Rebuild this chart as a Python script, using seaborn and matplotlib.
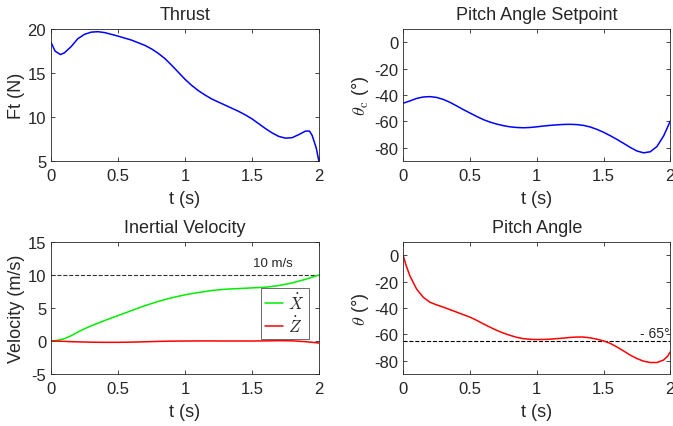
import pandas as pd
import seaborn as sns
import matplotlib.pyplot as plt

# values
t_thrust = [0, 0.03, 0.07, 0.1, 0.15, 0.2, 0.25, 0.3, 0.35, 0.4, 0.5, 0.6, 0.65, 0.7, 0.75,
            0.8, 0.85, 0.9, 0.95, 1.0, 1.05, 1.1, 1.15, 1.2, 1.25, 1.3, 1.35, 1.4, 1.45, 1.5,
            1.55, 1.6, 1.65, 1.7, 1.75, 1.8, 1.85, 1.9, 1.93, 1.95, 1.98, 2.0]
thrust = [18.5, 17.5, 17.1, 17.3, 18.0, 18.9, 19.4, 19.65, 19.7, 19.6, 19.2, 18.75, 18.45,
          18.15, 17.75, 17.25, 16.65, 15.9, 15.1, 14.3, 13.6, 13.0, 12.5, 12.05, 11.7, 11.35,
          11.0, 10.65, 10.25, 9.8, 9.25, 8.7, 8.2, 7.8, 7.6, 7.65, 8.0, 8.4, 8.4, 7.9, 6.5, 5.0]

t_setp = [0, 0.05, 0.1, 0.15, 0.2, 0.25, 0.3, 0.35, 0.4, 0.45, 0.5, 0.55, 0.6, 0.65, 0.7,
          0.75, 0.8, 0.85, 0.9, 0.95, 1.0, 1.05, 1.1, 1.15, 1.2, 1.25, 1.3, 1.35, 1.4, 1.45,
          1.5, 1.55, 1.6, 1.65, 1.7, 1.75, 1.8, 1.85, 1.9, 1.95, 2.0]
setpoint = [-46.2, -44.5, -42.6, -41.5, -41.2, -41.8, -43.3, -45.5, -48.2, -51.0, -53.6,
            -56.2, -58.6, -60.5, -62.0, -63.2, -64.1, -64.6, -64.8, -64.6, -64.1, -63.5, -63.0,
            -62.6, -62.3, -62.2, -62.4, -63.0, -64.2, -66.0, -68.2, -70.8, -73.6, -76.6,
            -79.7, -82.4, -83.8, -83.0, -79.0, -71.0, -59.7]

t_vel = [0, 0.05, 0.1, 0.15, 0.2, 0.25, 0.3, 0.4, 0.5, 0.6, 0.7, 0.8, 0.9, 1.0, 1.1, 1.2,
         1.3, 1.4, 1.5, 1.6, 1.7, 1.8, 1.9, 2.0]
xdot = [0.0, 0.1, 0.35, 0.8, 1.35, 1.85, 2.3, 3.1, 3.85, 4.6, 5.35, 6.0, 6.55, 7.0, 7.35,
        7.65, 7.85, 7.95, 8.05, 8.15, 8.4, 8.8, 9.35, 10.0]
zdot = [0.0, -0.02, -0.05, -0.1, -0.13, -0.15, -0.18, -0.2, -0.2, -0.17, -0.12, -0.06, -0.02,
        0.0, 0.01, 0.01, 0.0, 0.0, 0.0, 0.02, 0.05, 0.03, -0.1, -0.3]

t_pitch = [0, 0.02, 0.05, 0.08, 0.1, 0.15, 0.2, 0.25, 0.3, 0.35, 0.4, 0.45, 0.5, 0.55, 0.6,
           0.65, 0.7, 0.75, 0.8, 0.85, 0.9, 0.95, 1.0, 1.05, 1.1, 1.2, 1.25, 1.3, 1.35, 1.4,
           1.45, 1.5, 1.55, 1.6, 1.65, 1.7, 1.75, 1.8, 1.85, 1.9, 1.95, 1.98, 2.0]
pitch = [0.0, -7.0, -15.5, -21.5, -25.5, -31.8, -35.6, -37.6, -39.3, -41.2, -43.1, -45.0,
         -46.9, -49.3, -52.0, -54.5, -56.9, -59.0, -60.7, -62.2, -63.2, -63.7, -63.9, -63.8,
         -63.6, -62.8, -62.3, -62.0, -62.0, -62.6, -63.6, -64.9, -66.8, -69.5, -72.5, -75.7,
         -78.3, -80.3, -81.3, -81.3, -79.4, -76.5, -73.2]

sns.set_theme(style="ticks")
plt.rcParams['font.family'] = ['Liberation Sans', 'DejaVu Sans']
plt.rcParams['mathtext.fontset'] = 'cm'
plt.rcParams['axes.unicode_minus'] = False
plt.rcParams['xtick.direction'] = 'in'
plt.rcParams['ytick.direction'] = 'in'
plt.rcParams['axes.edgecolor'] = '#262626'
plt.rcParams['axes.linewidth'] = 0.6

fig = plt.figure(figsize=(6.73, 4.27), dpi=100)
ax1 = fig.add_axes([0.0758, 0.6206, 0.398, 0.309])
ax2 = fig.add_axes([0.599, 0.6206, 0.397, 0.309])
ax3 = fig.add_axes([0.0758, 0.1218, 0.398, 0.309])
ax4 = fig.add_axes([0.599, 0.1218, 0.397, 0.309])

lw = 1.1
sns.lineplot(x=t_thrust, y=thrust, ax=ax1, color='blue', lw=lw)
sns.lineplot(x=t_setp, y=setpoint, ax=ax2, color='blue', lw=lw)

vel = pd.DataFrame({'t': t_vel + t_vel, 'v': xdot + zdot,
                    'series': [r'$\dot{X}$'] * len(t_vel) + [r'$\dot{Z}$'] * len(t_vel)})
ax3.axhline(10, color='#333333', ls='--', lw=0.8)
sns.lineplot(data=vel, x='t', y='v', hue='series', palette=['#00ee00', 'red'], ax=ax3, lw=lw)
ax3.text(1.66, 10.9, '10 m/s', fontsize=9.5, ha='center', va='bottom')
leg = ax3.legend(loc='center right', bbox_to_anchor=(1.0, 0.46), fontsize=12, frameon=True,
                 fancybox=False, edgecolor='#262626', borderaxespad=0.6, handlelength=1.1,
                 handletextpad=0.3, borderpad=0.25, labelspacing=0.15)
leg.get_frame().set_linewidth(0.6)

ax4.axhline(-65, color='black', ls='--', lw=0.8)
sns.lineplot(x=t_pitch, y=pitch, ax=ax4, color='red', lw=lw)
ax4.text(1.995, -64, '- 65°', fontsize=10, ha='right', va='bottom')

specs = [
    (ax1, 'Thrust', 'Ft (N)', (5, 20), [5, 10, 15, 20]),
    (ax2, 'Pitch Angle Setpoint', r'$\theta_{\rm c}$ (°)', (-90, 10), [-80, -60, -40, -20, 0]),
    (ax3, 'Inertial Velocity', 'Velocity (m/s)', (-5, 15), [-5, 0, 5, 10, 15]),
    (ax4, 'Pitch Angle', r'$\theta$ (°)', (-90, 10), [-80, -60, -40, -20, 0]),
]
for ax, title, ylab, ylim, yticks in specs:
    ax.set_xlim(0, 2)
    ax.set_ylim(*ylim)
    ax.set_xticks([0, 0.5, 1, 1.5, 2])
    ax.set_xticklabels(['0', '0.5', '1', '1.5', '2'])
    ax.set_yticks(yticks)
    ax.set_title(title, fontsize=13, pad=7)
    ax.set_xlabel('t (s)', fontsize=13, color='#262626', labelpad=5)
    ax.set_ylabel(ylab, fontsize=13, color='#262626', labelpad=2)
    ax.tick_params(axis='x', pad=5)
    ax.tick_params(labelsize=12, colors='#262626', length=3, width=0.6,
                   top=True, right=True)
    for s in ax.spines.values():
        s.set_visible(True)

fig.savefig('out.png', dpi=100)
